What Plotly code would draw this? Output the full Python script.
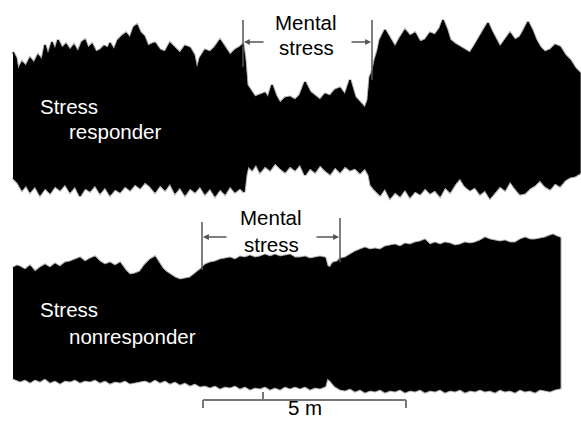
import plotly.graph_objects as go

# ---------------- data ----------------
# time in recording units (5 min = 203 units); amplitude in arbitrary units about each trace's midline
t_resp_hi = [13,16,18,22,26,30,34,38,42,45,48,52,55,58,62,66,70,74,78,82,85,88,92,96,100,104,108,110,114,118,122,126,130,134,137,140,144,148,152,155,160,165,170,175,180,185,190,194,197,200,205,210,215,220,225,230,235,240,243,245,247,250,255,260,265,268,272,276,280,285,290,295,300,305,310,315,320,325,330,335,340,345,350,355,360,365,368,370,373,375,378,380,385,390,395,400,405,410,415,420,425,430,435,440,443,447,450,455,460,465,470,475,480,484,488,492,496,500,505,510,515,520,524,528,532,536,540,545,550,555,560,565,570,575,580]
resp_hi = [68,62,50,58,54,62,57,65,60,75,65,78,70,80,72,76,70,75,68,78,80,72,76,68,70,74,72,77,70,80,84,87,82,93,95,88,84,74,76,77,70,68,77,72,67,74,72,65,50,62,70,68,73,80,72,65,70,73,76,60,35,30,23,25,27,22,35,24,17,22,23,20,25,38,28,24,20,26,24,30,32,25,40,23,17,12,20,43,50,60,70,80,90,82,73,82,90,84,87,78,80,87,85,92,100,90,80,76,73,70,67,75,83,90,97,88,80,73,80,87,80,83,90,98,90,80,73,68,70,75,73,65,60,52,47]

t_resp_lo = [13,18,22,26,30,35,40,45,50,55,60,65,70,75,80,85,90,95,100,105,110,115,120,125,130,135,140,145,150,155,160,165,170,175,180,185,190,195,200,205,210,215,220,225,230,235,240,244,246,248,252,256,260,265,270,275,280,285,290,295,300,305,310,315,320,325,330,335,340,345,350,355,360,365,369,371,375,380,385,390,395,400,405,410,415,420,425,430,435,440,445,450,455,460,465,470,475,480,485,490,495,500,505,510,515,520,525,530,535,540,545,550,555,560,565,570,575,580]
resp_lo = [-58,-63,-70,-65,-72,-66,-75,-68,-73,-66,-70,-64,-72,-66,-76,-68,-71,-65,-73,-67,-75,-69,-72,-66,-70,-64,-68,-62,-66,-72,-65,-70,-63,-73,-67,-75,-68,-72,-66,-74,-68,-76,-69,-74,-66,-72,-68,-72,-55,-46,-50,-44,-52,-46,-50,-43,-48,-52,-46,-50,-44,-55,-48,-52,-45,-50,-54,-47,-52,-46,-50,-48,-53,-48,-55,-65,-70,-75,-68,-78,-72,-76,-69,-77,-71,-74,-68,-73,-70,-76,-67,-72,-64,-58,-66,-70,-67,-74,-70,-78,-72,-66,-70,-61,-68,-74,-73,-68,-65,-60,-66,-69,-63,-66,-60,-57,-56,-53]

t_non_hi = [13,17,20,25,30,35,40,45,50,55,60,65,70,75,80,85,90,95,100,105,110,115,120,125,130,135,140,145,150,155,158,162,166,170,175,180,185,190,195,200,205,210,215,220,225,230,235,240,245,250,255,260,265,270,275,280,285,290,295,300,305,310,315,320,325,327,330,333,337,340,345,350,355,360,365,370,375,380,385,390,395,400,405,410,415,420,425,430,435,440,445,450,455,460,465,470,475,480,485,490,495,500,505,510,515,520,525,530,535,540,545,550,553,557,560]
non_hi = [52,54,53,50,54,48,52,55,52,56,53,57,58,60,62,58,61,63,58,55,57,54,57,50,45,46,48,55,60,63,58,52,48,45,42,40,41,42,46,50,55,57,58,60,61,62,60,63,62,64,62,63,65,63,65,63,64,65,62,62,63,61,62,63,62,54,52,57,58,61,62,65,68,70,72,70,71,70,73,74,75,73,76,75,77,78,80,75,77,75,77,76,74,75,77,76,77,79,82,80,79,78,79,77,77,80,82,80,80,81,82,84,85,83,82]

t_non_lo = [13,20,25,30,35,40,45,50,55,60,65,70,75,80,85,90,95,100,105,110,115,120,125,130,135,140,145,150,155,160,165,170,175,180,185,190,195,200,205,210,215,220,225,230,235,240,245,250,255,260,265,270,275,280,285,290,295,300,305,310,315,320,325,327,330,335,340,345,350,355,360,365,370,375,380,385,390,395,400,405,410,415,420,425,430,435,440,445,450,455,460,465,470,475,480,485,490,495,500,505,510,515,520,525,530,535,540,545,550,555,560]
non_lo = [-58,-61,-59,-62,-59,-61,-58,-62,-60,-63,-60,-61,-59,-62,-60,-61,-59,-62,-60,-63,-61,-62,-60,-63,-62,-61,-60,-62,-59,-62,-60,-63,-61,-64,-62,-65,-63,-66,-65,-67,-65,-68,-66,-67,-65,-68,-66,-69,-67,-68,-66,-69,-67,-69,-66,-68,-66,-68,-66,-69,-67,-68,-66,-58,-60,-66,-69,-70,-68,-71,-69,-72,-70,-71,-69,-72,-70,-71,-69,-72,-70,-71,-69,-72,-70,-71,-69,-72,-70,-71,-69,-72,-70,-71,-69,-71,-70,-72,-69,-71,-70,-72,-69,-71,-70,-72,-69,-70,-71,-69,-68]

labels_top = ["Stress", "responder"]
labels_bot = ["Stress", "nonresponder"]
stress_label = ["Mental", "stress"]
# stress period markers (time units) and scale bar (5 min)
stress_top = [243, 372]
stress_bot = [202, 340]
scale_bar = [203, 406]
scale_mid_tick = 263
scale_text = "5 m"

FONT = "Liberation Sans, Arial, Helvetica, sans-serif"
FS = 20.5
GREY = "#555555"

fig = go.Figure()


def envelope(t_hi, hi, t_lo, lo, yaxis):
    xs = list(t_hi) + list(reversed(t_lo))
    ys = list(hi) + list(reversed(lo))
    # soft fuzzy edge
    fig.add_trace(go.Scatter(x=xs, y=ys, yaxis=yaxis, mode="lines", fill="toself",
                             fillcolor="black", line=dict(color="rgba(0,0,0,0.35)", width=3),
                             hoverinfo="skip", showlegend=False))
    fig.add_trace(go.Scatter(x=xs, y=ys, yaxis=yaxis, mode="lines", fill="toself",
                             fillcolor="black", line=dict(color="black", width=1),
                             hoverinfo="skip", showlegend=False))


envelope(t_resp_hi, resp_hi, t_resp_lo, resp_lo, "y")
envelope(t_non_hi, non_hi, t_non_lo, non_lo, "y2")

shapes = []
annotations = []


def vline(x, y0, y1, yref, color=GREY, width=1.5):
    shapes.append(dict(type="line", xref="x", yref=yref, x0=x, x1=x, y0=y0, y1=y1,
                       line=dict(color=color, width=width)))


def hline(x0, x1, y, yref, color=GREY, width=1.5):
    shapes.append(dict(type="line", xref="x", yref=yref, x0=x0, x1=x1, y0=y, y1=y,
                       line=dict(color=color, width=width)))


def arrow(x_tail, x_head, y, yref):
    annotations.append(dict(x=x_head, y=y, ax=x_tail, ay=y, xref="x", yref=yref,
                             axref="x", ayref=yref, text="", showarrow=True,
                             arrowhead=2, arrowsize=0.9, arrowwidth=1.3, arrowcolor=GREY))


def text(s, x, y, yref, xanchor="left", color="black", yanchor="middle"):
    annotations.append(dict(x=x, y=y, xref="x", yref=yref, text=s, showarrow=False,
                            xanchor=xanchor, yanchor=yanchor,
                            font=dict(family=FONT, size=FS, color=color)))


# top panel annotations
vline(stress_top[0], 100, 53, "y")
vline(stress_top[1], 100, 40, "y")
arrow(stress_top[0] + 22, stress_top[0] + 1, 78, "y")
arrow(stress_top[1] - 22, stress_top[1] - 1, 78, "y")
text(stress_label[0], 306, 98, "y", "center")
text(stress_label[1], 306, 73, "y", "center")
text(labels_top[0], 38, 14, "y", color="white")
text(labels_top[1], 67, -11, "y", color="white")

# bottom panel annotations
vline(stress_bot[0], 98, 50, "y2")
vline(stress_bot[1], 102, 58, "y2")
arrow(stress_bot[0] + 26, stress_bot[0] + 1, 83, "y2")
arrow(stress_bot[1] - 25, stress_bot[1] - 1, 83, "y2")
text(stress_label[0], 271, 103, "y2", "center")
text(stress_label[1], 271, 76, "y2", "center")
text(labels_bot[0], 38, 11, "y2", color="white")
text(labels_bot[1], 67, -16, "y2", color="white")

# scale bar
hline(scale_bar[0], scale_bar[1], -80, "y2", color="#777777", width=2)
vline(scale_bar[0], -80, -88, "y2", color="#777777", width=2)
vline(scale_bar[1], -80, -88, "y2", color="#777777", width=2)
vline(scale_mid_tick, -80, -72, "y2", color="#777777", width=2)
text(scale_text, sum(scale_bar) / 2, -100.5, "y2", "center", yanchor="bottom")

fig.update_layout(
    width=581, height=421,
    margin=dict(l=0, r=0, t=0, b=0),
    paper_bgcolor="white", plot_bgcolor="white",
    showlegend=False,
    xaxis=dict(range=[0, 581], visible=False, fixedrange=True),
    yaxis=dict(range=[-301, 120], visible=False, fixedrange=True),
    yaxis2=dict(range=[-101, 320], visible=False, overlaying="y", fixedrange=True),
    shapes=shapes,
    annotations=annotations,
)

fig.write_html("out.html", config={"displayModeBar": False},
               post_script="document.body.style.margin='0';document.body.style.overflow='hidden';")
